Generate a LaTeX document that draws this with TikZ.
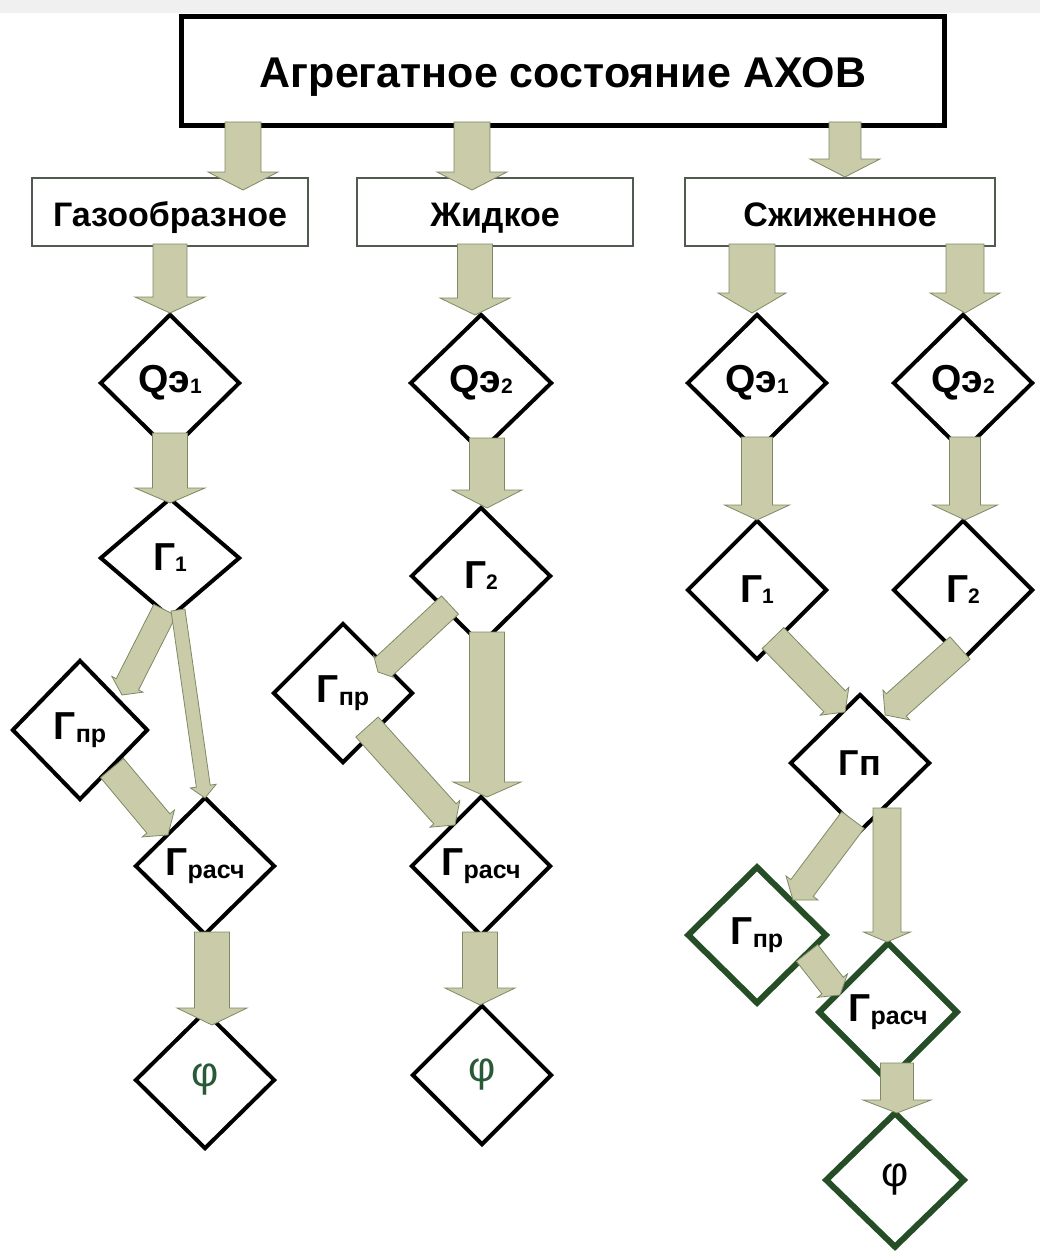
\documentclass[tikz,border=0pt]{standalone}
\usepackage{fontspec}
\setmainfont{Liberation Sans}
\usetikzlibrary{shapes.geometric,calc}
\definecolor{afill}{RGB}{202,203,168}
\definecolor{aline}{RGB}{125,138,100}
\definecolor{dgreen}{RGB}{38,78,38}
\definecolor{phig}{RGB}{40,90,55}
\definecolor{bandgray}{RGB}{240,240,240}
\definecolor{boxline}{RGB}{80,90,80}

% block arrow: from, to, shaft width, head width, head length (px)
\newcommand\barr[5]{%
  \filldraw[blockarrow] let \p1=#1, \p2=#2,
    \n1={atan2(\y2-\y1,\x2-\x1)}, \n2={veclen(\x2-\x1,\y2-\y1)} in
    [shift={(\p1)}, rotate=\n1]
    (0pt,{#3*0.25pt}) -- ({\n2*1pt-#5*0.5pt},{#3*0.25pt}) -- ({\n2*1pt-#5*0.5pt},{#4*0.25pt})
    -- ({\n2*1pt},0pt) -- ({\n2*1pt-#5*0.5pt},{-#4*0.25pt}) -- ({\n2*1pt-#5*0.5pt},{-#3*0.25pt})
    -- (0pt,{-#3*0.25pt}) -- cycle;
}
\newcommand\dsub[1]{\raisebox{-0.5pt}{\fontsize{10.5}{10.5}\selectfont #1}}
\newcommand\wsub[1]{\raisebox{-1.5pt}{\fontsize{12.5}{12.5}\selectfont #1}}
\newcommand\phisym{\mdseries\fontsize{21}{21}\selectfont φ}

\tikzset{
  dia/.style={diamond, draw=black, line width=2pt, fill=white, minimum width=70pt,
    minimum height=69pt, inner sep=0pt, font=\bfseries\fontsize{19.5}{19.5}\selectfont},
  gdia/.style={dia, draw=dgreen, line width=3pt},
  sbox/.style={draw=boxline, line width=0.8pt, fill=white, minimum height=34pt,
    inner sep=0pt, text height=17pt, text depth=2.3pt, font=\bfseries\fontsize{17}{17}\selectfont},
  blockarrow/.style={fill=afill, draw=aline, line width=0.4pt, line join=miter}
}

\begin{document}
\begin{tikzpicture}[x=0.5pt,y=-0.5pt]
\useasboundingbox (0,0) rectangle (1040,1252);
\fill[bandgray] (0,0) rectangle (1040,13);

% title and state boxes
\node[draw, line width=2.5pt, fill=white, minimum width=381.5pt, minimum height=54.5pt, inner sep=0pt,
  text height=19pt, text depth=2.1pt,
  font=\bfseries\fontsize{21.5}{22}\selectfont] (top) at (563,71) {Агрегатное состояние АХОВ};
\node[sbox, minimum width=138pt] (gbox) at (170,212) {Газообразное};
\node[sbox, minimum width=138pt] (lbox) at (495,212) {Жидкое};
\node[sbox, minimum width=155pt] (sbox) at (840,212) {Сжиженное};

% gas column
\node[dia] (gq) at (170,383) {Qэ\dsub{1}};
\node[dia, minimum height=60pt] (gg) at (170,558) {Г\dsub{1}};
\node[dia, minimum width=68pt, minimum height=70pt] (gpr) at (80,730) {Г\wsub{пр}};
\node[dia] (grs) at (205,866) {Г\wsub{расч}};
\node[dia] (gphi) at (205,1080) {\color{phig}\phisym};

% liquid column
\node[dia, minimum width=71pt] (lq) at (481,383) {Qэ\dsub{2}};
\node[dia] (lg) at (481,576) {Г\dsub{2}};
\node[dia, minimum height=70pt] (lpr) at (343,693) {Г\wsub{пр}};
\node[dia, minimum height=70pt] (lrs) at (481,866) {Г\wsub{расч}};
\node[dia, minimum height=70pt] (lphi) at (482,1075) {\color{phig}\phisym};

% liquefied column
\node[dia] (sq1) at (757,383) {Qэ\dsub{1}};
\node[dia] (sq2) at (963,383) {Qэ\dsub{2}};
\node[dia, minimum height=70pt] (sg1) at (757,590) {Г\dsub{1}};
\node[dia, minimum height=70pt] (sg2) at (963,590) {Г\dsub{2}};
\node[dia, font=\bfseries\fontsize{18}{18}\selectfont] (sgp) at (860,763) {Гп};
\node[gdia] (spr) at (757,935) {Г\wsub{пр}};
\node[gdia, minimum height=70pt] (srs) at (888,1012) {Г\wsub{расч}};
\node[gdia, minimum height=68pt] (sphi) at (895,1180) {\phisym};

% arrows from title
\barr{($(top)+(-320,51)$)}{($(gbox)+(73,-22)$)}{36}{70}{18}
\barr{($(top)+(-91,51)$)}{($(lbox)+(-23,-22)$)}{36}{70}{18}
\barr{($(top)+(282,51)$)}{($(sbox)+(5,-35)$)}{32}{70}{18}

% boxes to Q
\barr{($(gbox)+(0,32)$)}{($(gq)+(0,-70)$)}{34}{70}{16}
\barr{($(lbox)+(-20,32)$)}{($(lq)+(-6,-68)$)}{35}{70}{17}
\barr{($(sbox)+(-88,32)$)}{($(sq1)+(-5,-70)$)}{46}{68}{20}
\barr{($(sbox)+(125,32)$)}{($(sq2)+(2,-70)$)}{38}{70}{20}

% Q to G
\barr{($(gq)+(0,50)$)}{($(gg)+(0,-55)$)}{35}{70}{15}
\barr{($(lq)+(6,55)$)}{($(lg)+(6,-68)$)}{35}{70}{18}
\barr{($(sq1)+(0,54)$)}{($(sg1)+(0,-70)$)}{31}{65}{15}
\barr{($(sq2)+(2,54)$)}{($(sg2)+(2,-70)$)}{31}{65}{15}

% gas inner
\barr{($(gg)+(-5,52)$)}{($(gpr)+(42,-35)$)}{25}{35}{12}
\barr{($(gg)+(8,52)$)}{($(grs)+(0,-68)$)}{14}{26}{12}
\barr{($(gpr)+(32,38)$)}{($(grs)+(-37,-31)$)}{30}{42}{15}
\barr{($(grs)+(7,66)$)}{($(gphi)+(7,-55)$)}{35}{70}{17}

% liquid inner
\barr{($(lg)+(-31,29)$)}{($(lpr)+(35,-21)$)}{25}{30}{8}
\barr{($(lg)+(6,56)$)}{($(lrs)+(6,-69)$)}{35}{68}{15}
\barr{($(lpr)+(24,34)$)}{($(lrs)+(-26,-41)$)}{30}{40}{15}
\barr{($(lrs)+(-1,66)$)}{($(lphi)+(-2,-70)$)}{35}{70}{17}

% liquefied inner
\barr{($(sg1)+(16,48)$)}{($(sgp)+(-15,-51)$)}{30}{40}{15}
\barr{($(sg2)+(-3,58)$)}{($(sgp)+(25,-48)$)}{30}{40}{15}
\barr{($(sgp)+(-7,57)$)}{($(spr)+(36,-35)$)}{28}{40}{15}
\barr{($(sgp)+(27,45)$)}{($(srs)+(-1,-70)$)}{28}{47}{10}
\barr{($(spr)+(50,18)$)}{($(srs)+(-48,-17)$)}{27}{38}{12}
\barr{($(srs)+(9,51)$)}{($(sphi)+(2,-67)$)}{33}{68}{13}
\end{tikzpicture}
\end{document}
